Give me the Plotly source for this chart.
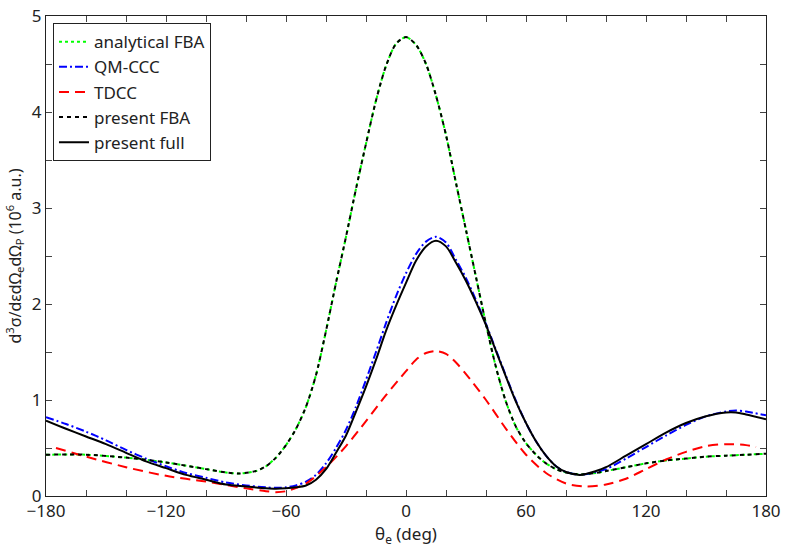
import plotly.graph_objects as go

# ---- data ----
fba_x = [-180, -160, -140, -120, -100, -90, -83, -75, -70, -65, -60, -55, -50, -45, -40,
         -35, -30, -25, -20, -15, -10, -5, 0, 5, 10, 15, 20, 25, 30, 35, 40, 45, 50,
         55, 60, 65, 70, 75, 80, 88, 95, 100, 110, 120, 130, 140, 150, 160, 170, 180]
fba_y = [0.43, 0.43, 0.40, 0.35, 0.28, 0.245, 0.235, 0.26, 0.31, 0.40, 0.53, 0.70, 0.93, 1.26, 1.72,
         2.22, 2.70, 3.20, 3.67, 4.12, 4.48, 4.71, 4.78, 4.70, 4.50, 4.17, 3.76, 3.26, 2.77, 2.28, 1.79, 1.34, 0.98,
         0.72, 0.55, 0.43, 0.34, 0.28, 0.245, 0.225, 0.24, 0.26, 0.30, 0.34, 0.37, 0.39, 0.41, 0.42, 0.43, 0.44]

present_fba_x = list(fba_x)
present_fba_y = list(fba_y)

ccc_x = [-180, -170, -160, -150, -140, -130, -120, -110, -100, -90, -80, -70, -65, -60, -55, -50, -45, -40,
         -35, -30, -25, -20, -15, -10, -5, 0, 5, 10, 15, 20, 25, 30, 35, 40, 45, 50, 55, 60, 65, 70, 75,
         80, 87, 95, 100, 110, 120, 130, 140, 150, 160, 165, 170, 180]
ccc_y = [0.82, 0.75, 0.67, 0.58, 0.48, 0.39, 0.31, 0.24, 0.19, 0.14, 0.11, 0.09, 0.085, 0.09, 0.11, 0.15, 0.22, 0.34,
         0.50, 0.69, 0.93, 1.21, 1.50, 1.80, 2.08, 2.32, 2.52, 2.65, 2.70, 2.64, 2.46, 2.27, 2.04, 1.79, 1.52, 1.25, 0.99, 0.76, 0.57, 0.42, 0.31,
         0.25, 0.22, 0.25, 0.28, 0.39, 0.51, 0.63, 0.74, 0.83, 0.88, 0.89, 0.88, 0.84]

tdcc_x = [-175, -160, -140, -120, -100, -80, -70, -65, -60, -50, -40, -30, -20, -10, 0, 5, 10, 15, 20, 25,
          30, 40, 50, 60, 70, 80, 90, 100, 110, 120, 130, 140, 150, 160, 170, 175]
tdcc_y = [0.50, 0.41, 0.30, 0.21, 0.15, 0.08, 0.05, 0.04, 0.05, 0.13, 0.30, 0.52, 0.78, 1.05, 1.30, 1.42, 1.49, 1.51, 1.48, 1.39,
          1.27, 1.00, 0.70, 0.43, 0.24, 0.13, 0.10, 0.12, 0.18, 0.28, 0.38, 0.46, 0.52, 0.54, 0.53, 0.51]

full_x = [-180, -170, -160, -150, -140, -130, -120, -110, -100, -90, -80, -70, -65, -60, -55, -50, -45, -40,
          -35, -30, -25, -20, -15, -10, -5, 0, 5, 10, 15, 20, 25, 30, 35, 40, 45, 50, 55, 60, 65, 70, 75,
          80, 87, 95, 100, 110, 120, 130, 140, 150, 160, 165, 170, 180]
full_y = [0.785, 0.70, 0.62, 0.54, 0.45, 0.36, 0.29, 0.22, 0.17, 0.12, 0.10, 0.08, 0.075, 0.08, 0.09, 0.11, 0.17, 0.28,
          0.45, 0.63, 0.88, 1.14, 1.42, 1.72, 1.98, 2.22, 2.45, 2.60, 2.66, 2.60, 2.43, 2.24, 2.02, 1.78, 1.51, 1.24, 0.98, 0.76, 0.57, 0.42, 0.31,
          0.25, 0.22, 0.26, 0.30, 0.42, 0.54, 0.66, 0.76, 0.83, 0.87, 0.87, 0.85, 0.80]

x_ticks = [-180, -120, -60, 0, 60, 120, 180]
y_ticks = [0, 1, 2, 3, 4, 5]

FONT = "Noto Sans"

fig = go.Figure()
fig.add_trace(go.Scatter(x=fba_x, y=fba_y, mode="lines", name="analytical FBA",
                         line=dict(color="#00ff00", width=2, dash="3px,3px", shape="spline", smoothing=0.8)))
fig.add_trace(go.Scatter(x=ccc_x, y=ccc_y, mode="lines", name="QM-CCC",
                         line=dict(color="#0000ff", width=2, dash="8px,3px,2px,3px", shape="spline", smoothing=0.8)))
fig.add_trace(go.Scatter(x=tdcc_x, y=tdcc_y, mode="lines", name="TDCC",
                         line=dict(color="#ff0000", width=2, dash="10px,6px", shape="spline", smoothing=0.8)))
fig.add_trace(go.Scatter(x=present_fba_x, y=present_fba_y, mode="lines", name="present FBA",
                         line=dict(color="#000000", width=2, dash="4px,4px", shape="spline", smoothing=0.8)))
fig.add_trace(go.Scatter(x=full_x, y=full_y, mode="lines", name="present full",
                         line=dict(color="#000000", width=2, shape="spline", smoothing=0.8)))

fig.update_layout(
    width=786, height=548,
    margin=dict(l=46, r=20, t=16, b=52, autoexpand=False),
    paper_bgcolor="white", plot_bgcolor="white",
    font=dict(family=FONT, size=17, color="#222222"),
    showlegend=True,
    legend=dict(x=0.0097, y=0.985, xanchor="left", yanchor="top",
                bgcolor="white", bordercolor="#222222", borderwidth=1,
                font=dict(family=FONT, size=17, color="#222222"),
                tracegroupgap=0, itemwidth=30),
)
fig.update_xaxes(
    range=[-180, 180], tickmode="array", tickvals=x_ticks, automargin=False,
    tickfont=dict(family=FONT, size=17),
    ticks="inside", ticklen=6, tickcolor="#444444", tickwidth=1,
    showline=True, linecolor="#222222", linewidth=1, mirror="ticks",
    showgrid=False, zeroline=False,
    minor=dict(dtick=20, tick0=0, ticks="inside", ticklen=6, tickcolor="#444444", showgrid=False),
    title=dict(text="θ<sub>e</sub> (deg)", standoff=2, font=dict(family=FONT, size=17)),
)
fig.update_yaxes(
    range=[0, 5], tickmode="array", tickvals=y_ticks, automargin=False,
    tickfont=dict(family=FONT, size=17),
    ticks="inside", ticklen=6, tickcolor="#444444", tickwidth=1,
    showline=True, linecolor="#222222", linewidth=1, mirror="ticks",
    showgrid=False, zeroline=False,
    minor=dict(dtick=0.5, tick0=0, ticks="inside", ticklen=6, tickcolor="#444444", showgrid=False),
    title=dict(text="d<sup>3</sup>σ/dεdΩ<sub>e</sub>dΩ<sub>P</sub> (10<sup>6</sup> a.u.)", standoff=6,
               font=dict(family=FONT, size=16)),
)

fig.write_html("out.html")
